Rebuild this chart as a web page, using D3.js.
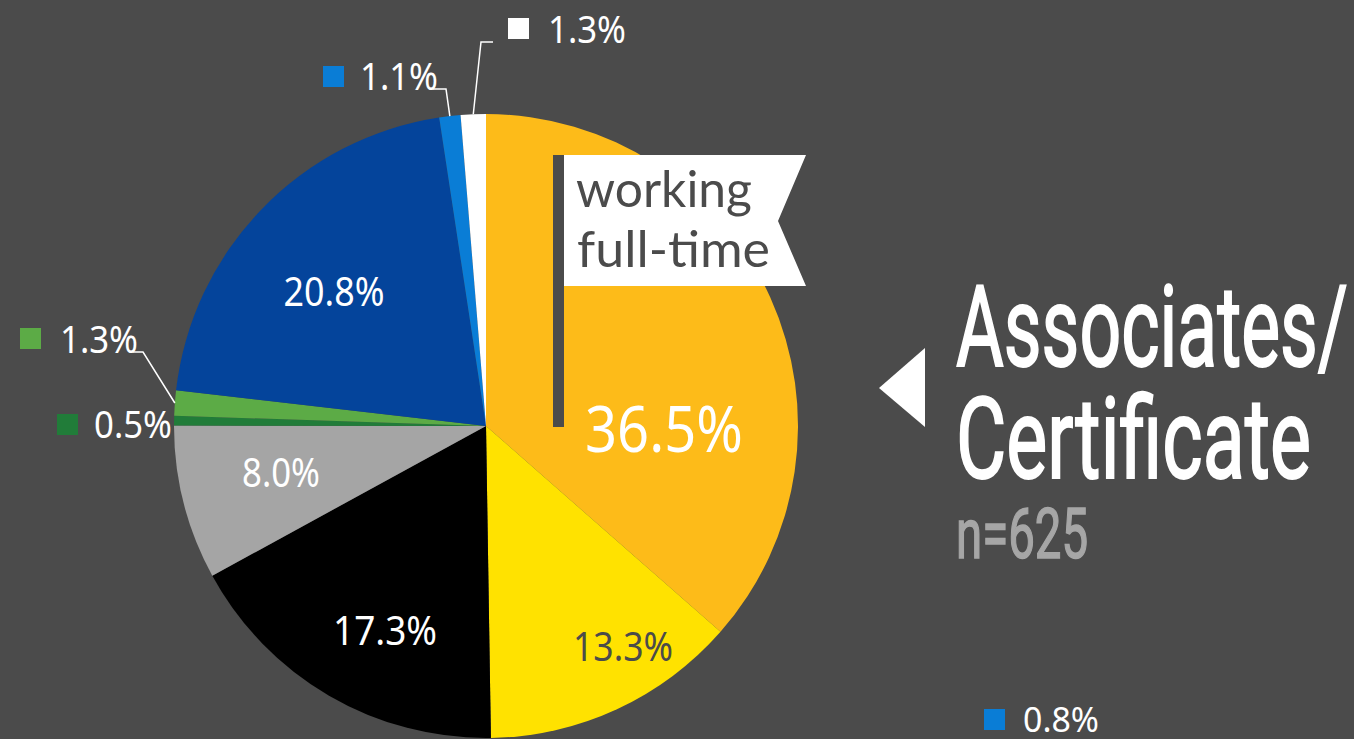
<!DOCTYPE html>
<html>
<head>
<meta charset="utf-8">
<script src="https://cdn.jsdelivr.net/npm/d3@7"></script>
<style>
  html, body { margin: 0; padding: 0; background: #4b4b4b; }
  svg { display: block; }
</style>
</head>
<body>
<svg></svg>
<script>
// slice data, clockwise from 12 o'clock
var categories = ["ft", "pt", "unemp", "notlf", "mil", "mil2", "grad", "other", "other2"];
var values = [36.5, 13.3, 17.3, 8.0, 0.5, 1.3, 20.8, 1.1, 1.3];
var colors = ["#fdbb19", "#ffe200", "#000000", "#a5a5a5", "#217c39", "#5cab46", "#04449b", "#0a7dd6", "#ffffff"];
var labels = ["36.5%", "13.3%", "17.3%", "8.0%", "0.5%", "1.3%", "20.8%", "1.1%", "1.3%"];
var extraLabel = "0.8%";

var width = 1354, height = 739;
var cx = 486, cy = 426, radius = 312;

var svg = d3.select("svg")
  .attr("width", width)
  .attr("height", height);

var pie = d3.pie().sort(null).value(function (d) { return d; });
var arc = d3.arc().innerRadius(0).outerRadius(radius);
var arcs = pie(values);

var g = svg.append("g").attr("transform", "translate(" + cx + "," + cy + ")");
g.selectAll("path")
  .data(arcs).enter()
  .append("path")
  .attr("d", arc)
  .attr("fill", function (d, i) { return colors[i]; });

function txt(x, y, s, size, len, fill, family, anchor) {
  var t = svg.append("text")
    .attr("x", x).attr("y", y)
    .attr("font-family", family || "'Noto Sans', sans-serif")
    .attr("font-size", size)
    .attr("fill", fill)
    .attr("text-anchor", anchor || "start")
    .text(s);
  if (len) t.attr("textLength", len).attr("lengthAdjust", "spacingAndGlyphs");
  return t;
}

// inside labels: [index, centre x, baseline, size, width, colour]
var inside = [
  [0, 664, 452, 64, 158, "#ffffff"],
  [1, 623, 661, 40, 100, "#4b4b4b"],
  [2, 385, 645, 40, 104, "#ffffff"],
  [3, 281, 487, 40, 78, "#ffffff"],
  [6, 334, 306, 40, 101, "#ffffff"]
];
inside.forEach(function (p) {
  txt(p[1], p[2], labels[p[0]], p[3], p[4], p[5], null, "middle");
});

// outside labels with legend squares: [index, square x, square y, text x, baseline, leader elbow]
var outside = [
  [7, 323, 66, 360, 90, [[433, 89], [446, 89]]],
  [8, 508, 18, 548, 43, [[493, 42], [481, 42]]],
  [5, 20, 328, 60, 353, [[133, 352], [143, 352]]],
  [4, 57, 414, 94, 438, null]
];

function edgePoint(i) {
  var a = (arcs[i].startAngle + arcs[i].endAngle) / 2;
  return [cx + radius * Math.sin(a), cy - radius * Math.cos(a)];
}

outside.forEach(function (p) {
  var i = p[0];
  if (p[5]) {
    var pts = p[5].concat([edgePoint(i)]);
    svg.append("path")
      .attr("d", d3.line()(pts))
      .attr("fill", "none")
      .attr("stroke", "#ffffff")
      .attr("stroke-width", 1.5);
  }
  svg.append("rect")
    .attr("x", p[1]).attr("y", p[2])
    .attr("width", 21).attr("height", 21)
    .attr("fill", colors[i]);
  txt(p[3], p[4], labels[i], 38, 78, "#ffffff");
});

// stray legend entry at bottom right
svg.append("rect").attr("x", 984).attr("y", 709).attr("width", 21).attr("height", 21).attr("fill", colors[7]);
txt(1023, 732, extraLabel, 34, 76, "#ffffff");

// flag
svg.append("rect").attr("x", 553).attr("y", 155).attr("width", 11).attr("height", 272).attr("fill", "#4b4b4b");
svg.append("path")
  .attr("d", "M564,155 L806,155 L778,221 L806,286 L564,286 Z")
  .attr("fill", "#ffffff");
txt(576, 207, "working", 50, 176, "#4b4b4b", "Lato, 'Open Sans', sans-serif");
txt(577, 267, "full-time", 50, 193, "#4b4b4b", "Lato, 'Open Sans', sans-serif");

// title block
svg.append("path")
  .attr("d", "M879,388 L925,348 L925,427 Z")
  .attr("fill", "#ffffff");
txt(956, 366, "Associates/", 114, 392, "#ffffff", "Roboto, sans-serif")
  .attr("stroke", "#ffffff").attr("stroke-width", 2);
txt(956, 478, "Certificate", 114, 355, "#ffffff", "Roboto, sans-serif")
  .attr("stroke", "#ffffff").attr("stroke-width", 2);
txt(956, 558, "n=625", 70, 132, "#a6a6a6", "Roboto, sans-serif")
  .attr("stroke", "#a6a6a6").attr("stroke-width", 1.5);
</script>
</body>
</html>
